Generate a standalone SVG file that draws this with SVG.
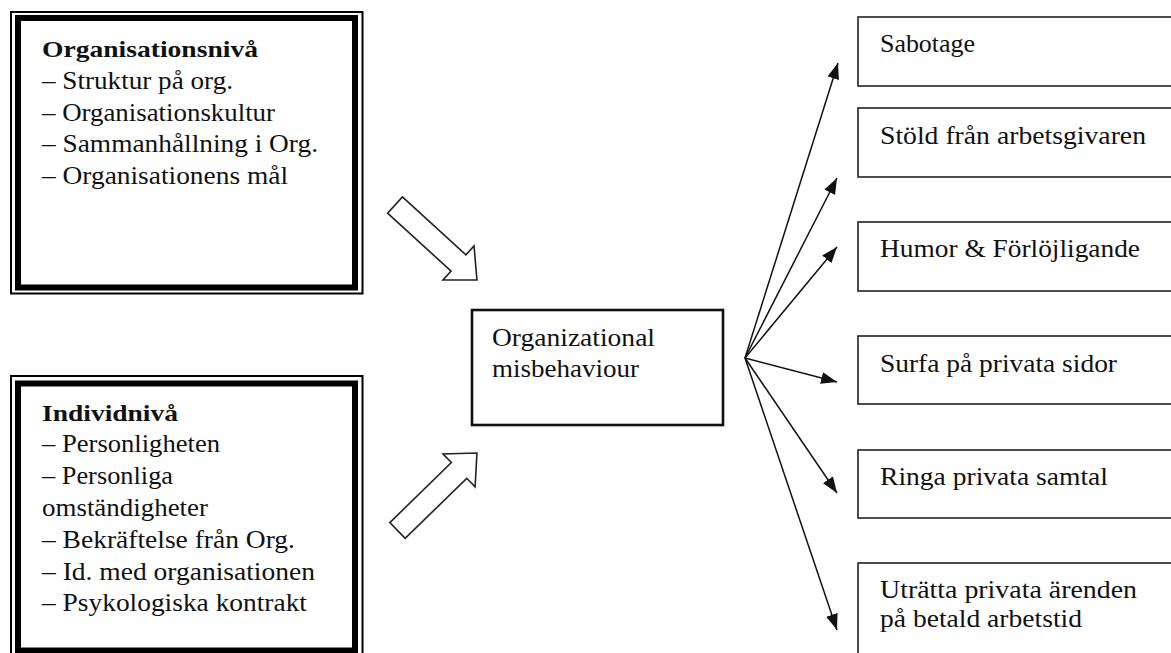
<svg xmlns="http://www.w3.org/2000/svg" width="1171" height="653" viewBox="0 0 1171 653">
<defs>
<style>
text{font-family:"Liberation Serif","Times New Roman",serif;font-size:25px;fill:#111;}
.b{font-weight:bold;font-size:24px;}
.thin{fill:none;stroke:#000;stroke-width:2;}
.thick{fill:none;stroke:#000;stroke-width:6;}
.box{fill:#fff;stroke:#222;stroke-width:1.6;}
.mid{fill:#fff;stroke:#111;stroke-width:2.6;}
.hollow{fill:#fff;stroke:#222;stroke-width:1.6;stroke-linejoin:miter;}
.fan{fill:none;stroke:#111;stroke-width:1.5;}
</style>
<marker id="ah" markerUnits="userSpaceOnUse" markerWidth="16" markerHeight="12" viewBox="0 0 16 12" refX="16" refY="6" orient="auto">
<path d="M0,0 L16,6 L0,12 Z" fill="#111"/>
</marker>
<path id="hollowArrow" d="M0,-11 L86,-11 L86,-23 L111,0 L86,23 L86,11 L0,11 Z"/>
</defs>
<rect width="1171" height="653" fill="#fff"/>

<g id="org-level">
<rect class="thin" x="11" y="12" width="351.5" height="281.5"/>
<rect class="thick" x="18" y="18" width="337" height="269.5"/>
<text class="b" x="42" y="57" textLength="216" lengthAdjust="spacingAndGlyphs">Organisationsnivå</text>
<text x="42" y="89" textLength="191" lengthAdjust="spacingAndGlyphs">– Struktur på org.</text>
<text x="42" y="121" textLength="233" lengthAdjust="spacingAndGlyphs">– Organisationskultur</text>
<text x="42" y="152" textLength="276" lengthAdjust="spacingAndGlyphs">– Sammanhållning i Org.</text>
<text x="42" y="184" textLength="246" lengthAdjust="spacingAndGlyphs">– Organisationens mål</text>
</g>

<g id="individ-level">
<rect class="thin" x="11" y="376" width="351.5" height="290"/>
<rect class="thick" x="18" y="383.5" width="337" height="267"/>
<text class="b" x="42" y="421" textLength="136" lengthAdjust="spacingAndGlyphs">Individnivå</text>
<text x="42" y="452" textLength="178" lengthAdjust="spacingAndGlyphs">– Personligheten</text>
<text x="42" y="484" textLength="131" lengthAdjust="spacingAndGlyphs">– Personliga</text>
<text x="42" y="516" textLength="166" lengthAdjust="spacingAndGlyphs">omständigheter</text>
<text x="42" y="548" textLength="253" lengthAdjust="spacingAndGlyphs">– Bekräftelse från Org.</text>
<text x="42" y="580" textLength="273" lengthAdjust="spacingAndGlyphs">– Id. med organisationen</text>
<text x="42" y="611" textLength="265" lengthAdjust="spacingAndGlyphs">– Psykologiska kontrakt</text>
</g>

<g id="misbehaviour">
<rect class="mid" x="472" y="310" width="251" height="115"/>
<text x="492" y="346" textLength="163" lengthAdjust="spacingAndGlyphs">Organizational</text>
<text x="492" y="377" textLength="147" lengthAdjust="spacingAndGlyphs">misbehaviour</text>
</g>

<g id="sabotage">
<rect class="box" x="858" y="17" width="340" height="69"/>
<text x="880" y="52" textLength="95" lengthAdjust="spacingAndGlyphs">Sabotage</text>
</g>
<g id="stold">
<rect class="box" x="858" y="108" width="340" height="69"/>
<text x="880" y="144" textLength="266" lengthAdjust="spacingAndGlyphs">Stöld från arbetsgivaren</text>
</g>
<g id="humor">
<rect class="box" x="858" y="222" width="340" height="69"/>
<text x="880" y="257" textLength="260" lengthAdjust="spacingAndGlyphs">Humor &amp; Förlöjligande</text>
</g>
<g id="surfa">
<rect class="box" x="858" y="336" width="340" height="68"/>
<text x="880" y="372" textLength="237" lengthAdjust="spacingAndGlyphs">Surfa på privata sidor</text>
</g>
<g id="ringa">
<rect class="box" x="858" y="450" width="340" height="68"/>
<text x="880" y="485" textLength="228" lengthAdjust="spacingAndGlyphs">Ringa privata samtal</text>
</g>
<g id="utratta">
<rect class="box" x="858" y="563" width="340" height="120"/>
<text x="880" y="598" textLength="257" lengthAdjust="spacingAndGlyphs">Uträtta privata ärenden</text>
<text x="880" y="627" textLength="202" lengthAdjust="spacingAndGlyphs">på betald arbetstid</text>
</g>

<g id="connectors">
<use href="#hollowArrow" class="hollow" transform="translate(395,205) rotate(42.4)"/>
<use href="#hollowArrow" class="hollow" transform="translate(397.5,530.5) rotate(-44.3)"/>
<line class="fan" x1="745" y1="358" x2="838" y2="63" marker-end="url(#ah)"/>
<line class="fan" x1="745" y1="358" x2="837" y2="178" marker-end="url(#ah)"/>
<line class="fan" x1="745" y1="358" x2="837" y2="247" marker-end="url(#ah)"/>
<line class="fan" x1="745" y1="358" x2="837" y2="382" marker-end="url(#ah)"/>
<line class="fan" x1="745" y1="358" x2="837" y2="493" marker-end="url(#ah)"/>
<line class="fan" x1="745" y1="358" x2="837" y2="630" marker-end="url(#ah)"/>
</g>
</svg>
